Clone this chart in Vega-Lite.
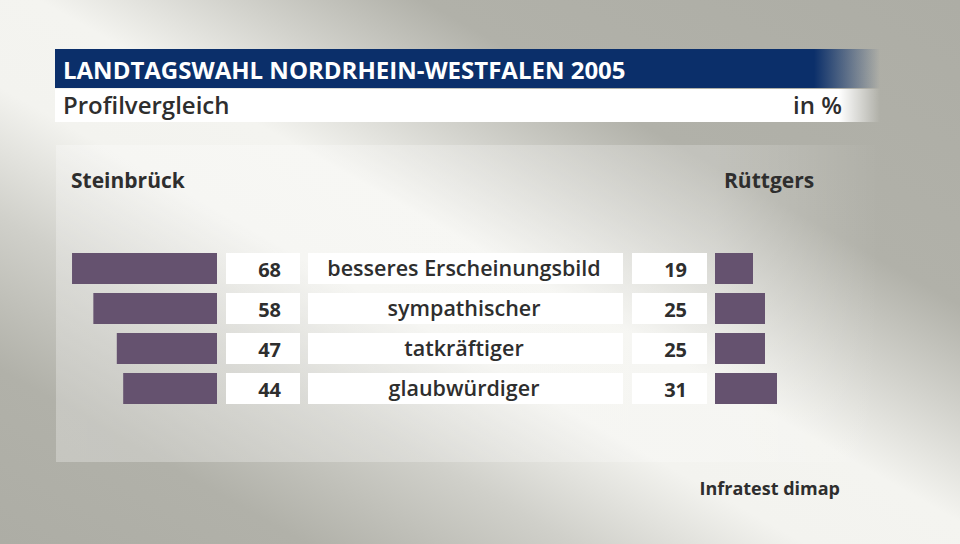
{
  "$schema": "https://vega.github.io/schema/vega-lite/v6.json",
  "width": 960,
  "height": 544,
  "autosize": {"type": "none"},
  "padding": 0,
  "background": "#b0b0a8",
  "config": {"view": {"stroke": null}, "text": {"font": "Open Sans", "color": "#2e2e2e"}},
  "data": {"values": [
    {"item": "besseres Erscheinungsbild", "steinbrueck": 68, "ruettgers": 19},
    {"item": "sympathischer", "steinbrueck": 58, "ruettgers": 25},
    {"item": "tatkräftiger", "steinbrueck": 47, "ruettgers": 25},
    {"item": "glaubwürdiger", "steinbrueck": 44, "ruettgers": 31}
  ]},
  "resolve": {"scale": {"x": "independent"}},
  "layer": [
    {
      "data": {"values": [{}]},
      "mark": {"type": "rect", "fill": {"gradient": "linear", "x1": 0, "y1": 1, "x2": 1, "y2": 0, "stops": [
        {"offset": 0, "color": "#adada5"},
        {"offset": 0.16, "color": "#b1b1a9"},
        {"offset": 0.3, "color": "#d0d0ca"},
        {"offset": 0.42, "color": "#f3f3ef"},
        {"offset": 0.52, "color": "#f4f4f0"},
        {"offset": 0.62, "color": "#d2d2cc"},
        {"offset": 0.72, "color": "#b1b1a9"},
        {"offset": 1, "color": "#adada5"}
      ]}},
      "encoding": {"x": {"value": 0}, "x2": {"value": "width"}, "y": {"value": 0}, "y2": {"value": "height"}}
    },
    {
      "data": {"values": [{}]},
      "mark": {"type": "rect", "fill": {"gradient": "linear", "x1": 0, "y1": 0, "x2": 1, "y2": 0, "stops": [
        {"offset": 0, "color": "rgba(255,255,255,0.28)"},
        {"offset": 0.8, "color": "rgba(255,255,255,0.22)"},
        {"offset": 1, "color": "rgba(255,255,255,0)"}
      ]}},
      "encoding": {"x": {"value": 56}, "x2": {"value": 880}, "y": {"value": 145}, "y2": {"value": 462}}
    },
    {
      "data": {"values": [{}]},
      "mark": {"type": "rect", "fill": {"gradient": "linear", "x1": 0, "y1": 0, "x2": 1, "y2": 0, "stops": [
        {"offset": 0, "color": "#0b2f6a"},
        {"offset": 0.92, "color": "#0b2f6a"},
        {"offset": 1, "color": "rgba(11,47,106,0)"}
      ]}},
      "encoding": {"x": {"value": 55}, "x2": {"value": 880}, "y": {"value": 49}, "y2": {"value": 88}}
    },
    {
      "data": {"values": [{}]},
      "mark": {"type": "rect", "fill": {"gradient": "linear", "x1": 0, "y1": 0, "x2": 1, "y2": 0, "stops": [
        {"offset": 0, "color": "#ffffff"},
        {"offset": 0.95, "color": "#ffffff"},
        {"offset": 1, "color": "rgba(255,255,255,0)"}
      ]}},
      "encoding": {"x": {"value": 55}, "x2": {"value": 880}, "y": {"value": 89}, "y2": {"value": 122}}
    },
    {
      "data": {"values": [{"t": "LANDTAGSWAHL NORDRHEIN-WESTFALEN 2005"}]},
      "mark": {"type": "text", "align": "left", "baseline": "alphabetic", "fontSize": 24, "fontWeight": "bold", "color": "#ffffff"},
      "encoding": {"text": {"field": "t"}, "x": {"value": 63}, "y": {"value": 79}}
    },
    {
      "data": {"values": [{"t": "Profilvergleich"}]},
      "mark": {"type": "text", "align": "left", "baseline": "alphabetic", "fontSize": 24, "fontWeight": 600},
      "encoding": {"text": {"field": "t"}, "x": {"value": 63}, "y": {"value": 114}}
    },
    {
      "data": {"values": [{"t": "in %"}]},
      "mark": {"type": "text", "align": "right", "baseline": "alphabetic", "fontSize": 24, "fontWeight": 600},
      "encoding": {"text": {"field": "t"}, "x": {"value": 842}, "y": {"value": 114}}
    },
    {
      "data": {"values": [{"t": "Steinbrück"}]},
      "mark": {"type": "text", "align": "left", "baseline": "alphabetic", "fontSize": 21, "fontWeight": "bold"},
      "encoding": {"text": {"field": "t"}, "x": {"value": 71}, "y": {"value": 188}}
    },
    {
      "data": {"values": [{"t": "Rüttgers"}]},
      "mark": {"type": "text", "align": "left", "baseline": "alphabetic", "fontSize": 21, "fontWeight": "bold"},
      "encoding": {"text": {"field": "t"}, "x": {"value": 724}, "y": {"value": 188}}
    },
    {
      "data": {"values": [{"t": "Infratest dimap"}]},
      "mark": {"type": "text", "align": "right", "baseline": "alphabetic", "fontSize": 18, "fontWeight": "bold"},
      "encoding": {"text": {"field": "t"}, "x": {"value": 840}, "y": {"value": 495}}
    },
    {
      "mark": {"type": "rect", "color": "#ffffff"},
      "encoding": {
        "y": {"field": "item", "type": "nominal", "axis": null, "sort": null,
              "scale": {"domain": ["besseres Erscheinungsbild", "sympathischer", "tatkräftiger", "glaubwürdiger"], "range": [248.5, 408.5], "paddingInner": 0.225, "paddingOuter": 0.1125}},
        "x": {"value": 226}, "x2": {"value": 300}
      }
    },
    {
      "mark": {"type": "rect", "color": "#ffffff"},
      "encoding": {
        "y": {"field": "item", "type": "nominal", "axis": null, "sort": null},
        "x": {"value": 308}, "x2": {"value": 623}
      }
    },
    {
      "mark": {"type": "rect", "color": "#ffffff"},
      "encoding": {
        "y": {"field": "item", "type": "nominal", "axis": null, "sort": null},
        "x": {"value": 632}, "x2": {"value": 707}
      }
    },
    {
      "mark": {"type": "bar", "color": "#65526f"},
      "encoding": {
        "y": {"field": "item", "type": "nominal", "axis": null, "sort": null},
        "x": {"field": "steinbrueck", "type": "quantitative", "axis": null, "stack": null, "scale": {"domain": [0, 100], "range": [217, 3.8]}}
      }
    },
    {
      "mark": {"type": "bar", "color": "#65526f"},
      "encoding": {
        "y": {"field": "item", "type": "nominal", "axis": null, "sort": null},
        "x": {"field": "ruettgers", "type": "quantitative", "axis": null, "stack": null, "scale": {"domain": [0, 100], "range": [715, 915]}}
      }
    },
    {
      "mark": {"type": "text", "align": "right", "baseline": "middle", "fontSize": 20, "fontWeight": "bold", "dy": 2},
      "encoding": {
        "y": {"field": "item", "type": "nominal", "axis": null, "sort": null},
        "text": {"field": "steinbrueck", "type": "quantitative"},
        "x": {"value": 281}
      }
    },
    {
      "mark": {"type": "text", "align": "center", "baseline": "middle", "fontSize": 21.5, "fontWeight": 600, "dy": 1},
      "encoding": {
        "y": {"field": "item", "type": "nominal", "axis": null, "sort": null},
        "text": {"field": "item", "type": "nominal"},
        "x": {"value": 464}
      }
    },
    {
      "mark": {"type": "text", "align": "right", "baseline": "middle", "fontSize": 20, "fontWeight": "bold", "dy": 2},
      "encoding": {
        "y": {"field": "item", "type": "nominal", "axis": null, "sort": null},
        "text": {"field": "ruettgers", "type": "quantitative"},
        "x": {"value": 687}
      }
    }
  ]
}
